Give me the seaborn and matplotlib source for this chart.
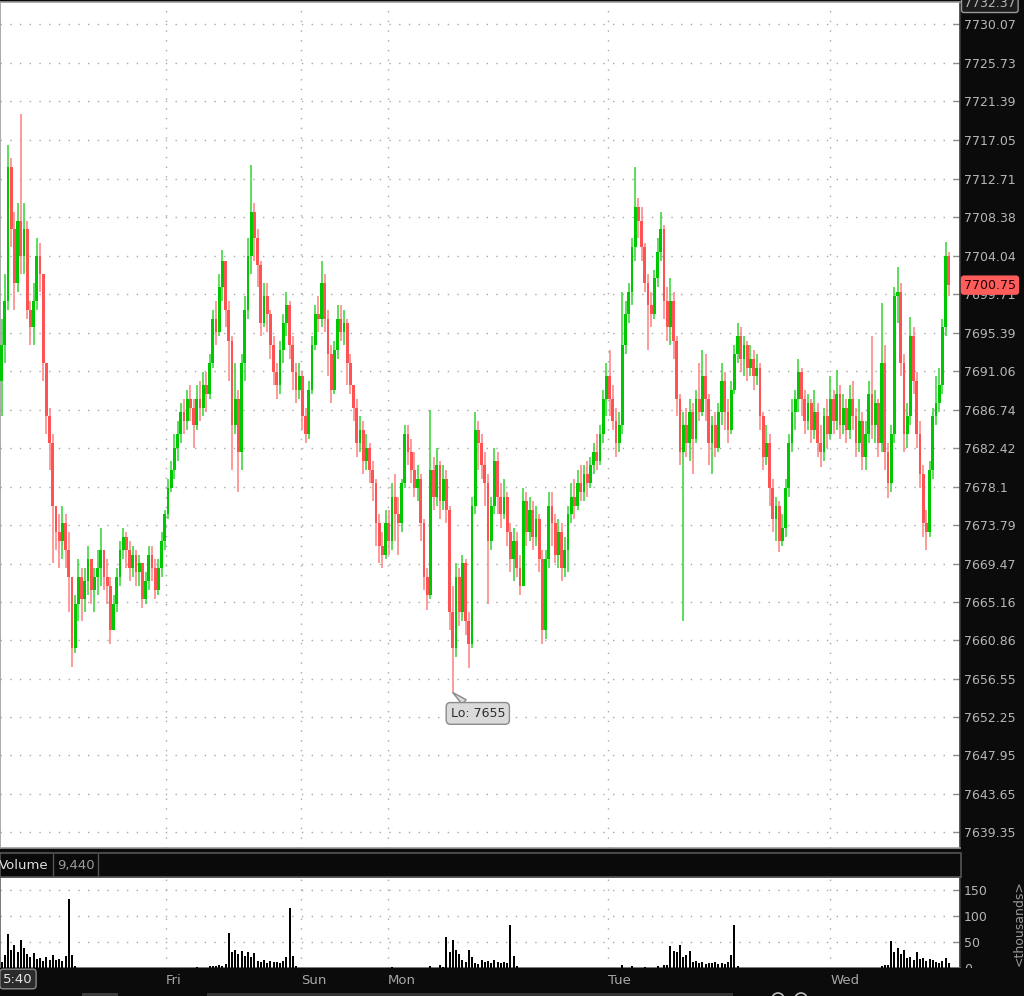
import numpy as np
import matplotlib
matplotlib.use("Agg")
import matplotlib.pyplot as plt
import matplotlib.transforms as mtransforms
from matplotlib.patches import Rectangle, Ellipse
from matplotlib.lines import Line2D
import seaborn as sns

# ---------------- data (candles) ----------------
first_open = 7690.0
closes = [
    7694, 7699, 7714, 7707, 7701, 7708, 7704, 7707, 7698, 7696,
    7699, 7704, 7702, 7692, 7686, 7683, 7676, 7673, 7672, 7674,
    7671, 7668, 7660, 7665, 7668, 7665.5, 7667.5, 7670, 7666.5, 7668,
    7669, 7671, 7668, 7667, 7662, 7665, 7668, 7671, 7672.5, 7671,
    7669, 7670.5, 7668.5, 7669.5, 7665.5, 7667.5, 7670.5, 7669, 7666.5, 7669,
    7672, 7675, 7678, 7680, 7682.5, 7684, 7686.5, 7685.5, 7688, 7687,
    7685, 7688, 7687, 7689.5, 7688.5, 7692, 7697, 7695.5, 7700.5, 7703.5,
    7698, 7694.5, 7685, 7688, 7682, 7692, 7698, 7704, 7709, 7706,
    7703, 7696.5, 7699.5, 7697.5, 7694, 7691, 7689.5, 7693.5, 7696.5, 7698.5,
    7694, 7691, 7689, 7690.5, 7686, 7684, 7689, 7694, 7697.5, 7697,
    7701, 7697, 7693, 7689, 7693.5, 7697, 7695.5, 7696.5, 7692, 7689.5,
    7687, 7683, 7684.5, 7681, 7682.5, 7680, 7678.5, 7674, 7671.5, 7670.5,
    7674, 7672, 7677, 7675, 7674, 7678.5, 7684, 7682, 7680, 7678,
    7679, 7674, 7668, 7666, 7680, 7677, 7680.5, 7676.5, 7679, 7675.5,
    7664, 7660, 7668, 7664, 7669.5, 7663, 7660.5, 7676, 7684.5, 7683,
    7680.5, 7678.5, 7672, 7676, 7681, 7677, 7675, 7677, 7673, 7670,
    7672, 7669, 7667, 7676.5, 7673, 7675.5, 7672.5, 7674.5, 7670, 7662,
    7670, 7676, 7674, 7670.5, 7673, 7669, 7671, 7675, 7677, 7676,
    7678.5, 7677.5, 7679.5, 7678.5, 7680.5, 7682, 7681, 7684, 7688, 7690.5,
    7688, 7685.5, 7683, 7685, 7694, 7697.5, 7700, 7705, 7709.5, 7708,
    7705, 7701, 7698.5, 7697.5, 7701.5, 7704.5, 7707, 7699, 7696, 7699,
    7694.5, 7688, 7682, 7685, 7683, 7686.5, 7683.5, 7688, 7686.5, 7690.5,
    7688, 7683, 7685, 7682.5, 7686.5, 7690, 7686.5, 7684.5, 7689, 7693,
    7695, 7692.5, 7694, 7691.5, 7692.5, 7690.5, 7691.5, 7686, 7681.5, 7683,
    7678, 7674.5, 7676, 7672, 7673.5, 7678, 7683, 7686.5, 7688, 7691,
    7688, 7685.5, 7687.5, 7684.5, 7686.5, 7683, 7682, 7686, 7684, 7688,
    7685.5, 7688.5, 7685, 7687, 7684.5, 7688, 7686, 7683, 7685.5, 7681.5,
    7684, 7688.5, 7685, 7687.5, 7683, 7692, 7682, 7678.5, 7684, 7699.5,
    7700, 7692, 7684, 7686, 7695, 7690, 7684, 7679.5, 7674, 7673,
    7680, 7686, 7687.5, 7689.5, 7696, 7704, 7700.75,
]
highs = [
    7697, 7702, 7716.5, 7715, 7709, 7710, 7720, 7710, 7708, 7699,
    7701, 7706, 7705.5, 7702, 7692, 7687, 7684, 7676, 7675, 7676,
    7675, 7673, 7668, 7666, 7670, 7669, 7669, 7671.5, 7670, 7669,
    7671, 7673.5, 7671, 7670, 7668, 7666, 7669, 7672, 7673.5, 7673,
    7672, 7671.5, 7671, 7670.5, 7669.5, 7668.5, 7671.5, 7671.5, 7670, 7670,
    7673, 7675.5, 7679, 7681, 7684, 7685.5, 7687.5, 7688, 7689, 7689.5,
    7688, 7689.5, 7690, 7691, 7691, 7693, 7698, 7699, 7702, 7704.7,
    7703.5, 7699, 7695, 7692, 7689, 7693, 7699.5, 7706, 7714.2, 7710,
    7707, 7703.5, 7701, 7701, 7698, 7695, 7692, 7694.5, 7697.5, 7700,
    7699, 7695, 7692, 7692, 7691, 7687, 7690, 7695, 7698.5, 7699.5,
    7703.5, 7702, 7698, 7694, 7694.5, 7698.5, 7698.5, 7698, 7697, 7693,
    7689.5, 7688, 7686, 7685.5, 7684, 7683, 7681, 7679, 7675, 7673,
    7675.5, 7675.5, 7678.5, 7679.5, 7677, 7679, 7685, 7685, 7683.5, 7682,
    7680.5, 7679.5, 7674.5, 7669, 7686.7, 7681.5, 7682.5, 7681, 7680.5, 7680,
    7676, 7667, 7669.5, 7669, 7670.5, 7670, 7664, 7677, 7686.5, 7685.5,
    7684, 7682, 7679.5, 7677, 7682.5, 7682, 7678.5, 7679, 7677.5, 7674,
    7673.5, 7673, 7670.5, 7678, 7677.5, 7677, 7676.5, 7676, 7675, 7671,
    7671, 7677.5, 7677.5, 7675, 7674.5, 7674, 7672.5, 7676, 7678.5, 7679,
    7680, 7680.5, 7680.5, 7681, 7681.5, 7683, 7684, 7685, 7689, 7692,
    7693.5, 7689.5, 7687, 7686.5, 7700, 7699, 7701, 7706, 7714, 7710.5,
    7709.5, 7705.5, 7702, 7700, 7702.5, 7706, 7709, 7707.5, 7700.5, 7701.5,
    7700, 7695, 7688.5, 7686.5, 7687, 7688, 7687.5, 7689, 7692, 7693.5,
    7693, 7688.5, 7686, 7686.5, 7687.5, 7692, 7691, 7688, 7690, 7694,
    7696.5, 7696, 7695, 7694.5, 7694, 7693.5, 7693, 7692, 7686.5, 7685,
    7684, 7679, 7677, 7676.5, 7675, 7679, 7684, 7688, 7689, 7692.5,
    7691.5, 7689, 7688.5, 7688, 7689, 7687.5, 7685, 7687, 7688, 7690.5,
    7689, 7691.2, 7689.5, 7688.5, 7688, 7689.5, 7690, 7687, 7688, 7686.5,
    7685.5, 7690, 7695, 7689, 7688, 7698.7, 7694, 7683, 7685, 7700.5,
    7702.8, 7701, 7693, 7687.5, 7697.2, 7696, 7691, 7685.5, 7680.5, 7675.5,
    7681, 7687, 7690.5, 7691.5, 7697, 7705.6, 7704.5,
]
lows = [
    7686, 7692, 7698, 7705, 7698, 7700, 7702, 7702, 7697, 7694,
    7694, 7698, 7700, 7690, 7684, 7680, 7669.5, 7671, 7669, 7670,
    7669, 7664, 7657.9, 7659.5, 7663, 7663, 7664, 7666, 7665, 7664,
    7666, 7667, 7666.5, 7665, 7660.5, 7662, 7664, 7667, 7670, 7669,
    7667.5, 7668, 7667, 7667, 7664.5, 7665, 7666.5, 7667.5, 7665.5, 7666,
    7668, 7671, 7674.5, 7677.5, 7679, 7681, 7683, 7684, 7684.5, 7685.5,
    7682.5, 7684.5, 7685.5, 7686, 7686.5, 7688, 7691.5, 7694, 7695, 7699,
    7696, 7690, 7680, 7684, 7677.5, 7680, 7690, 7697, 7702, 7703.5,
    7700.5, 7695, 7696, 7695.5, 7692.5, 7689.5, 7688, 7688.5, 7692, 7695,
    7692.5, 7689, 7687.5, 7688, 7684.5, 7683, 7683.5, 7688.5, 7693.5, 7695.5,
    7696, 7695.5, 7690.5, 7687.5, 7688.5, 7692.5, 7694.5, 7694, 7689.5, 7688.5,
    7685.5, 7681.5, 7682, 7679.5, 7680, 7678.5, 7676.5, 7671.5, 7669.5, 7669,
    7670, 7670.5, 7671, 7672, 7670.5, 7673, 7678, 7680.5, 7678.5, 7677,
    7676.5, 7672, 7666.5, 7664.3, 7665.5, 7675.5, 7676, 7674.5, 7675.5, 7674,
    7662, 7655, 7659, 7662.5, 7663, 7661.5, 7657.8, 7660, 7675, 7680,
    7679, 7676, 7665, 7671, 7675, 7675, 7673.5, 7674.5, 7671.5, 7668.5,
    7667.5, 7668, 7666, 7668, 7671.5, 7672, 7671, 7671.5, 7668.5, 7660.5,
    7661, 7669, 7671.5, 7669.5, 7669, 7667.5, 7668, 7668.5, 7674, 7674.5,
    7675.5, 7676.5, 7676.5, 7677, 7678, 7679.5, 7680, 7680.5, 7683, 7686,
    7686, 7684.5, 7681.5, 7682, 7684, 7693, 7696.5, 7698.5, 7703.5, 7706,
    7703.5, 7700, 7693.5, 7696, 7697, 7700.5, 7703.5, 7697, 7694.5, 7694,
    7692.5, 7686, 7680.5, 7663, 7681.5, 7681, 7679.5, 7683, 7685.5, 7686,
    7685.5, 7680.5, 7679.5, 7681.5, 7682, 7685, 7684.5, 7683, 7684, 7688.5,
    7692, 7691, 7690.5, 7690, 7690.5, 7689, 7689.5, 7684.5, 7680, 7680.5,
    7676, 7673, 7672, 7670.8, 7671.5, 7672.5, 7677, 7682, 7684.5, 7686.5,
    7686, 7684, 7684.5, 7683, 7683.5, 7681.5, 7680.3, 7681, 7682.5, 7683.5,
    7684, 7684.5, 7683.5, 7684, 7683, 7683.5, 7684.5, 7681.5, 7682, 7680,
    7680, 7683, 7683.5, 7683, 7681.5, 7682, 7680, 7676.9, 7677.5, 7683,
    7696.5, 7690.5, 7682, 7682.5, 7685, 7688.5, 7682.5, 7678, 7672.5, 7671,
    7672.5, 7679, 7685, 7686.5, 7688.5, 7695, 7699.5,
]
volumes = [  # thousands
    12, 25, 65, 35, 45, 30, 54, 38, 26, 22,
    28, 18, 20, 14, 22, 16, 25, 15, 18, 14,
    24, 132, 25, 3, 0, 0, 0, 0, 0, 0,
    0, 0, 0, 0, 0, 0, 0, 0, 0, 0,
    0, 0, 0, 0, 0, 0, 0, 0, 0, 0,
    0, 0, 0, 0, 0, 0, 0, 0, 0, 0,
    0, 2, 0, 0, 0, 3, 4, 3, 5, 4,
    8, 67, 30, 34, 26, 32, 24, 30, 22, 28,
    14, 12, 15, 10, 13, 11, 12, 10, 14, 22,
    115, 24, 4, 0, 0, 0, 0, 0, 0, 0,
    0, 0, 0, 0, 0, 0, 0, 0, 0, 0,
    0, 0, 0, 0, 0, 0, 0, 0, 0, 0,
    0, 0, 2, 0, 0, 0, 0, 0, 0, 0,
    0, 0, 0, 0, 3, 0, 0, 5, 2, 59,
    30, 54, 35, 27, 15, 12, 35, 22, 10, 8,
    15, 12, 14, 10, 15, 12, 10, 11, 10, 83,
    24, 3, 0, 0, 0, 0, 0, 0, 0, 0,
    0, 0, 0, 0, 0, 0, 0, 0, 0, 0,
    0, 0, 0, 0, 0, 0, 0, 0, 0, 0,
    0, 0, 0, 0, 5, 0, 0, 3, 0, 0,
    0, 2, 0, 0, 0, 4, 0, 5, 6, 42,
    32, 30, 45, 22, 25, 32, 12, 14, 10, 12,
    8, 10, 9, 12, 7, 10, 8, 12, 25, 83,
    3, 0, 0, 0, 0, 0, 0, 0, 0, 0,
    0, 0, 0, 0, 0, 0, 0, 0, 0, 0,
    0, 0, 0, 0, 0, 0, 0, 0, 0, 0,
    0, 0, 0, 0, 0, 0, 0, 0, 0, 0,
    0, 0, 0, 0, 0, 4, 5, 6, 51, 30,
    38, 26, 35, 20, 22, 16, 30, 18, 20, 14,
    17, 15, 12, 10, 14, 20, 9,
]
price_ticks = [7730.07, 7725.73, 7721.39, 7717.05, 7712.71, 7708.38, 7704.04,
               7699.71, 7695.39, 7691.06, 7686.74, 7682.42, 7678.1, 7673.79,
               7669.47, 7665.16, 7660.86, 7656.55, 7652.25, 7647.95, 7643.65,
               7639.35]
vol_ticks = [0, 50, 100, 150]
day_labels = ["Fri", "Sun", "Mon", "Tue", "Wed"]
day_pos = [51.4, 93.6, 120.75, 189.5, 258.9]   # in candle-index units
last_price = 7700.75
top_price = 7732.37
volume_header = "9,440"
cursor_time = "5:40"

# ---------------- style ----------------
sns.set_theme(style="white")
plt.rcParams['font.family'] = ['DejaVu Sans']

W, H = 1024, 996
BG = '#0b0b0b'
GRID = '#a8a8a8'
TXT = '#b6b6b6'
dotted = (0, (1, 6))

fig = plt.figure(figsize=(W / 100, H / 100), dpi=100, facecolor=BG)


def fy(py):
    return 1 - py / H


def fx(px):
    return px / W


ax = fig.add_axes([0, fy(848), 960 / W, (848 - 2) / H])
axv = fig.add_axes([0, fy(968), 960 / W, (968 - 877) / H])

n = len(closes)
idx = np.arange(n)
c = np.array(closes, dtype=float)
o = np.r_[first_open, c[:-1]]
h = np.maximum(np.array(highs, dtype=float), np.maximum(o, c))
l = np.minimum(np.array(lows, dtype=float), np.minimum(o, c))
up = c >= o
GREEN, RED = '#00c800', '#ff5353'
GREEN_W, RED_W = '#3ad63a', '#ff8585'
body_col = np.where(up, GREEN, RED)
wick_col = np.where(up, GREEN_W, RED_W)

XL = (-0.5, 299.5)

# ---- main price panel ----
ax.set_facecolor('white')
ax.vlines(idx, l, h, colors=wick_col, linewidth=1.15, zorder=3)
ax.bar(idx, np.maximum(np.abs(c - o), 0.3), bottom=np.minimum(o, c), width=0.86,
       color=body_col, linewidth=0, zorder=4)
ax.set_xlim(XL)
ax.set_ylim(7637.55, 7732.54)
ax.set_yticks(price_ticks)
ax.set_yticklabels([f"{v:g}" for v in price_ticks])
ax.yaxis.tick_right()
ax.tick_params(axis='y', direction='in', length=5, width=1, color='#8c8c8c',
               labelcolor=TXT, labelsize=9, pad=3)
ax.set_xticks(day_pos)
ax.set_xticklabels([])
ax.tick_params(axis='x', direction='in', length=8, width=1, color='#9c9c9c')
ax.grid(True, color=GRID, linestyle=dotted, linewidth=1)
ax.set_axisbelow(True)
for s in ax.spines.values():
    s.set_color('#9c9c9c')
    s.set_linewidth(1.2)
ax.spines['right'].set_color('#3a3a3a')

# Lo callout
lo_i = int(np.argmin(l))
lo_v = l[lo_i]
ax.annotate(f"Lo: {lo_v:g}", xy=(lo_i, lo_v), xytext=(18, -15), textcoords='offset points',
            ha='center', va='center', fontsize=9, color='#2e2e2e', zorder=8,
            bbox=dict(boxstyle='round,pad=0.35', fc='#dadada', ec='#8a8a8a', lw=1),
            arrowprops=dict(arrowstyle='wedge,tail_width=0.5,shrink_factor=0.5',
                            fc='#dadada', ec='#8a8a8a', lw=1, shrinkA=0, shrinkB=0))

# ---- volume panel ----
axv.set_facecolor('white')
sns.barplot(x=idx, y=volumes, native_scale=True, color='black', saturation=1,
            width=0.6, errorbar=None, linewidth=0, ax=axv, zorder=3)
axv.set_xlim(XL)
axv.set_ylim(0, 175)
axv.set_yticks(vol_ticks)
axv.set_yticklabels([str(v) for v in vol_ticks])
axv.yaxis.tick_right()
axv.tick_params(axis='y', direction='in', length=5, width=1, color='#8c8c8c',
                labelcolor=TXT, labelsize=9, pad=3)
axv.set_xticks(day_pos)
axv.set_xticklabels([])
axv.tick_params(axis='x', length=0)
axv.set_xlabel('')
axv.set_ylabel('')
axv.grid(True, color=GRID, linestyle=dotted, linewidth=1)
axv.set_axisbelow(True)
for s in axv.spines.values():
    s.set_color('#6a6a6a')
axv.spines['right'].set_color('#3a3a3a')

# ---- decorations in figure pixels ----
ftr = fig.transFigure
fig.add_artist(Rectangle((0, fy(877)), 961 / W, 24 / H, transform=ftr,
                         fc='#0a0a0a', ec='#555555', lw=1.2))
for xp in (53, 98):
    fig.add_artist(Line2D([fx(xp), fx(xp)], [fy(876), fy(854)], transform=ftr,
                          color='#555555', lw=1))
fig.text(fx(-1), fy(865), "Volume", color='#dedede', fontsize=9.5, ha='left', va='center')
fig.text(fx(57), fy(865), volume_header, color='#9a9a9a', fontsize=9.5, ha='left', va='center')

# time axis bar
fig.add_artist(Rectangle((0, fy(991)), 1, 23 / H, transform=ftr, fc=BG, ec='none'))
tr_days = mtransforms.blended_transform_factory(axv.transData, ftr)
for pos, lab in zip(day_pos, day_labels):
    fig.text(pos, fy(980), lab, transform=tr_days, color='#a6a6a6', fontsize=9.5,
             ha='left', va='center')
fig.text(fx(18), fy(979), cursor_time, color='#e4e4e4', fontsize=9.5, ha='center', va='center',
         bbox=dict(boxstyle='round,pad=0.25', fc='#2b2b2b', ec='#8a8a8a', lw=1))

# bottom strip elements
fig.add_artist(Rectangle((fx(82), 0), 36 / W, 3.5 / H, transform=ftr, fc='#3c3c3c', ec='none'))
fig.add_artist(Rectangle((fx(207), 0), 526 / W, 3.5 / H, transform=ftr, fc='#333333', ec='none'))
for cx in (778, 801):
    fig.add_artist(Ellipse((fx(cx), fy(999)), 12 / W, 12 / H, transform=ftr,
                           fc='none', ec='#bdbdbd', lw=1.2))

# price labels on right axis
tr_price = mtransforms.blended_transform_factory(ftr, ax.transData)
fig.text(fx(964), last_price, f"{last_price:.2f}", transform=tr_price, color='#1e0000',
         fontsize=9, ha='left', va='center',
         bbox=dict(boxstyle='round,pad=0.2', fc='#ff5c5c', ec='#ff5c5c', lw=1))
fig.text(fx(964), top_price, f"{top_price:.2f}", transform=tr_price, color=TXT,
         fontsize=9, ha='left', va='center',
         bbox=dict(boxstyle='round,pad=0.2', fc='#1c1c1c', ec='#9a9a9a', lw=1))

fig.text(fx(1019), fy(923), "<thousands>", rotation=90, color='#9a9a9a', fontsize=9,
         ha='center', va='center')

fig.savefig("out.png", dpi=100, facecolor=BG)
